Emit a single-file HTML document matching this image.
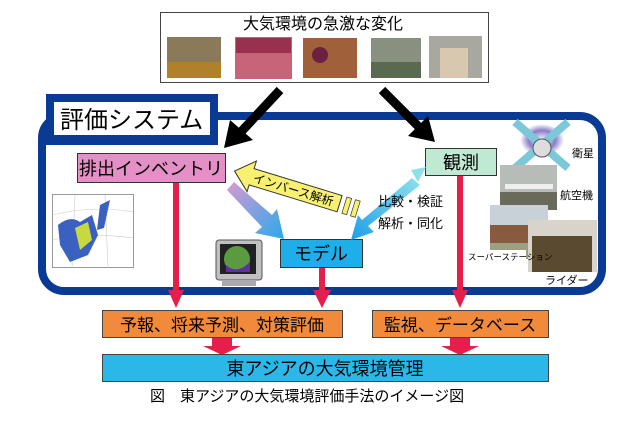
<!DOCTYPE html>
<html><head><meta charset="utf-8"><style>
body{margin:0;background:#fff;width:640px;height:420px;overflow:hidden;font-family:"Liberation Sans","Noto Sans CJK JP",sans-serif}
svg text{font-family:"Liberation Sans","Noto Sans CJK JP",sans-serif}
</style></head><body>
<svg width="640" height="420" viewBox="0 0 640 420" xmlns="http://www.w3.org/2000/svg">
<defs>
<linearGradient id="g1" x1="0" y1="0" x2="1" y2="1"><stop offset="0" stop-color="#d89ad0"/><stop offset="1" stop-color="#2aa8ec"/></linearGradient>
<linearGradient id="g2" x1="1" y1="0" x2="0" y2="1"><stop offset="0" stop-color="#8ee0ea"/><stop offset="1" stop-color="#1e9fe8"/></linearGradient>
<radialGradient id="sat" cx="0.5" cy="0.5" r="0.5"><stop offset="0" stop-color="#fff"/><stop offset="0.6" stop-color="#8a7cc8"/><stop offset="1" stop-color="#fff"/></radialGradient>
</defs>
<rect x="160.5" y="12.5" width="328" height="70" fill="#fff" stroke="#444"/>
<text x="323" y="29" font-size="16" text-anchor="middle">大気環境の急激な変化</text>
<rect x="167" y="37" width="54" height="41" fill="#8a7a5a"/><rect x="167" y="62" width="54" height="16" fill="#b0802a"/>
<rect x="235" y="37" width="57" height="42" fill="#c8647a"/><rect x="236" y="38" width="55" height="15" fill="#9a3050"/>
<rect x="303" y="38" width="54" height="40" fill="#a0603a"/><circle cx="320" cy="55" r="8" fill="#6a2040"/>
<rect x="371" y="38" width="50" height="40" fill="#8a9080"/><rect x="371" y="62" width="50" height="16" fill="#5a6a50"/>
<rect x="429" y="36" width="53" height="42" fill="#a8a8a0"/><rect x="440" y="48" width="28" height="30" fill="#d8c8b0"/>
<rect x="42" y="116" width="560" height="175" rx="22" fill="#fff" stroke="#0b3a95" stroke-width="8"/>
<rect x="46" y="94" width="172" height="51" fill="#0b3a95"/>
<rect x="54" y="102" width="156" height="33" fill="#fff"/>
<text x="60" y="128" font-size="24">評価システム</text>
<line x1="280" y1="90" x2="240" y2="133" stroke="#000" stroke-width="9"/>
<polygon points="224,148 230,120 253,140" fill="#000"/>
<line x1="382" y1="90" x2="420" y2="128" stroke="#000" stroke-width="9"/>
<polygon points="435,142 408,136 428,116" fill="#000"/>
<g fill="#e61e4a">
<rect x="173" y="182" width="6" height="110"/><polygon points="168,290 184,290 176,308"/>
<rect x="319" y="267" width="6" height="25"/><polygon points="313,290 331,290 322,308"/>
<rect x="457" y="175" width="6" height="117"/><polygon points="452,290 468,290 460,308"/>
<polygon points="212,338 232,338 232,346 241,346 222,355 203,346 212,346"/>
<polygon points="450,338 470,338 470,346 479,346 460,355 441,346 450,346"/>
</g>
<rect x="77.5" y="153.5" width="148" height="29" fill="#e48fc6" stroke="#333"/>
<text x="151" y="175" font-size="18" text-anchor="middle">排出インベントリ</text>
<rect x="425.5" y="148.5" width="71" height="27" fill="#bfe9d2" stroke="#333"/>
<text x="461" y="169" font-size="18" text-anchor="middle">観測</text>
<rect x="280.5" y="239.5" width="82" height="28" fill="#1eaeea" stroke="#333"/>
<text x="321" y="260" font-size="18" text-anchor="middle">モデル</text>
<polygon points="227,190 234,182 272,215 277,209 284,239 255,233 262,227" fill="url(#g1)"/>
<polygon points="412,178 420,185 368,226 374,232 351,240 358,215 362,220" fill="url(#g2)"/>
<polygon points="411,170 426,167 418,182" fill="#8ee0ea"/>
<g transform="rotate(17 290 188)">
<polygon points="232,188 250,172 250,180 342,180 342,197 250,197 250,204" fill="#f8f070" stroke="#333"/>
<text x="252" y="193" font-size="12">インバース解析</text>
<rect x="347" y="180" width="5" height="17" fill="#f8f070" stroke="#333" stroke-width="0.7"/>
<rect x="356" y="180" width="5" height="17" fill="#f8f070" stroke="#333" stroke-width="0.7"/>
</g>
<text x="378" y="206" font-size="13">比較・検証</text>
<text x="378" y="228" font-size="13">解析・同化</text>
<rect x="52.5" y="194.5" width="81" height="73" fill="#fff" stroke="#999"/>
<g stroke="#ccc" stroke-width="0.6" fill="none"><path d="M52 215 Q92 205 133 212"/><path d="M52 240 Q92 232 133 238"/><path d="M75 195 L72 268"/><path d="M105 195 L108 268"/></g>
<path d="M58 225 Q70 215 80 222 L92 215 L98 235 L88 255 L70 262 L60 245Z" fill="#3a60c0"/>
<path d="M75 228 L88 222 L92 240 L80 250Z" fill="#c8d840"/>
<path d="M100 205 L110 200 L104 228 L97 230Z" fill="#3a60c0"/>
<rect x="216" y="240" width="46" height="40" rx="3" fill="#c0c0c0" stroke="#555"/>
<rect x="220" y="244" width="36" height="30" fill="#222"/>
<circle cx="237" cy="259" r="13" fill="#5a9a40"/><path d="M226 265 Q237 275 250 262 L250 272 L226 272Z" fill="#6030a0"/>
<rect x="222" y="280" width="34" height="6" fill="#aaa"/>
<ellipse cx="542" cy="140" rx="22" ry="16" fill="url(#sat)"/>
<g stroke="#7cc8d8" stroke-width="8"><line x1="515" y1="122" x2="568" y2="168"/><line x1="568" y1="122" x2="515" y2="168"/></g>
<circle cx="542" cy="148" r="9" fill="#ddd" stroke="#555"/>
<text x="572" y="157" font-size="11">衛星</text>
<rect x="500" y="165" width="57" height="45" fill="#b8bcb8"/><rect x="500" y="192" width="57" height="18" fill="#6a6a5a"/><rect x="505" y="184" width="48" height="5" fill="#eee"/>
<text x="560" y="199" font-size="11">航空機</text>
<rect x="490" y="205" width="58" height="54" fill="#c8d0d8"/><rect x="490" y="225" width="58" height="18" fill="#8a5a40"/><rect x="490" y="243" width="58" height="16" fill="#9aa080"/>
<rect x="528" y="220" width="69" height="52" fill="#d8d4cc"/><rect x="532" y="236" width="60" height="36" fill="#5a4a30"/>
<rect x="466" y="250" width="60" height="12" fill="#fff"/>
<text x="468" y="260" font-size="8.5">スーパーステーション</text>
<text x="545" y="284" font-size="11">ライダー</text>
<rect x="102.5" y="310.5" width="240" height="27" fill="#f28a3c" stroke="#444"/>
<text x="222" y="331" font-size="17" text-anchor="middle">予報、将来予測、対策評価</text>
<rect x="372.5" y="310.5" width="176" height="27" fill="#f28a3c" stroke="#444"/>
<text x="460" y="331" font-size="17" text-anchor="middle">監視、データベース</text>
<rect x="102.5" y="354.5" width="446" height="27" fill="#2bb7e8" stroke="#444"/>
<text x="325" y="375" font-size="18" text-anchor="middle">東アジアの大気環境管理</text>
<text x="150" y="401" font-size="15">図　東アジアの大気環境評価手法のイメージ図</text>
</svg>
</body></html>
